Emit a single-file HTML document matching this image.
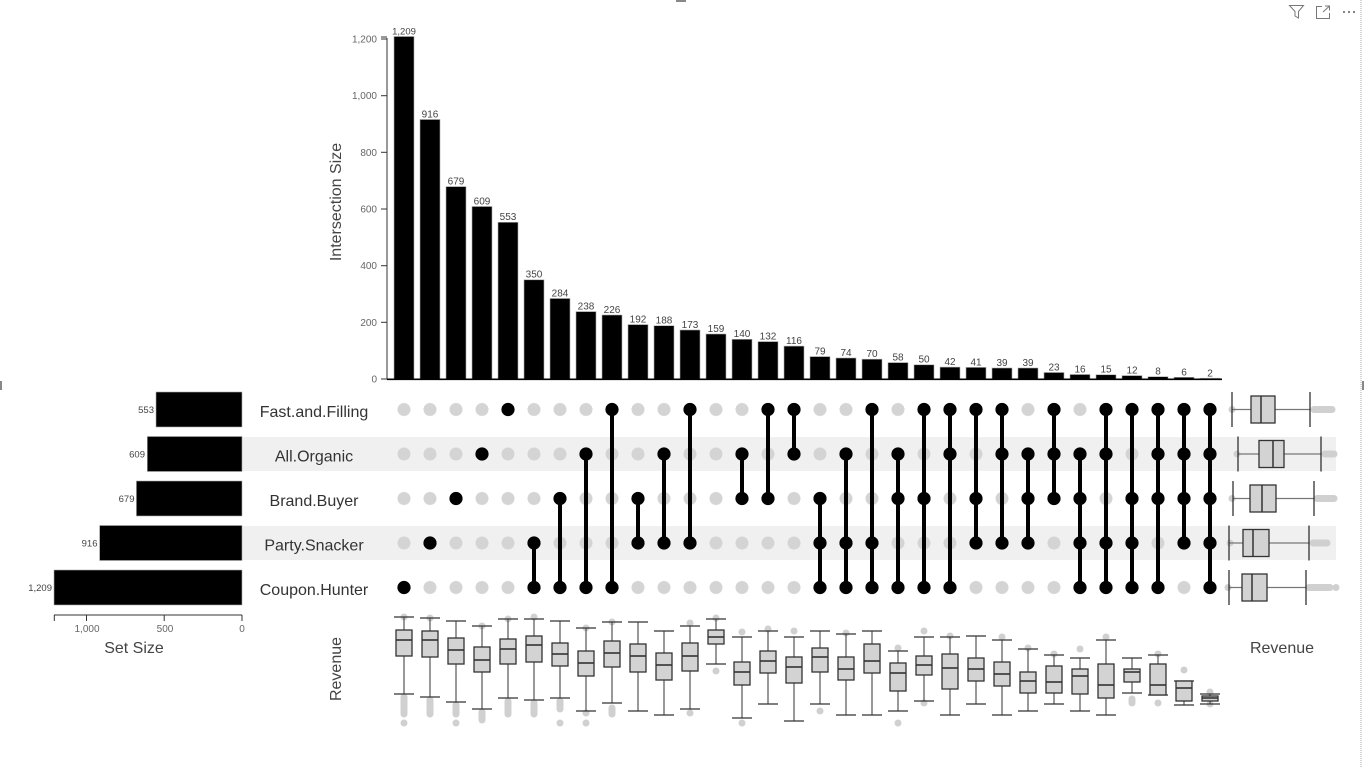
<!DOCTYPE html>
<html><head><meta charset="utf-8"><style>
html,body{margin:0;padding:0;background:#fff;}
svg{display:block;font-family:"Liberation Sans",Arial,sans-serif;}
</style></head><body>
<svg width="1366" height="768" viewBox="0 0 1366 768" xmlns="http://www.w3.org/2000/svg">
<defs>
<pattern id="gd" x="391" y="387.25" width="26" height="44.5" patternUnits="userSpaceOnUse"><circle cx="13" cy="22.25" r="6.5" fill="#d4d4d4"/></pattern>
<circle id="b" r="6.6" fill="#000"/>
</defs>
<rect width="1366" height="768" fill="#fff"/>

<!-- row bands -->
<rect x="242" y="437" width="1094" height="34" fill="#f0f0f0"/>
<rect x="242" y="526" width="1094" height="34" fill="#f0f0f0"/>

<!-- top y axis -->
<g stroke="#333" stroke-width="1">
<line x1="387" y1="38" x2="387" y2="379"/>
<line x1="381" y1="379" x2="387" y2="379"/>
<line x1="381" y1="322.3" x2="387" y2="322.3"/>
<line x1="381" y1="265.7" x2="387" y2="265.7"/>
<line x1="381" y1="209" x2="387" y2="209"/>
<line x1="381" y1="152.3" x2="387" y2="152.3"/>
<line x1="381" y1="95.7" x2="387" y2="95.7"/>
<line x1="381" y1="39" x2="387" y2="39"/>
<line x1="381" y1="37" x2="387" y2="37"/>
</g>
<g font-size="10" fill="#666" text-anchor="end">
<text x="377" y="382.5">0</text>
<text x="377" y="325.8">200</text>
<text x="377" y="269.2">400</text>
<text x="377" y="212.5">600</text>
<text x="377" y="155.8">800</text>
<text x="377" y="99.2">1,000</text>
<text x="377" y="42.5">1,200</text>
</g>
<text transform="translate(341,202) rotate(-90)" font-size="16" fill="#444" text-anchor="middle">Intersection Size</text>

<!-- bars -->
<g fill="#000" stroke="#aaa" stroke-width="0.6">
<rect x="394" y="36.5" width="20" height="342.5"/>
<rect x="420" y="119.5" width="20" height="259.5"/>
<rect x="446" y="186.6" width="20" height="192.4"/>
<rect x="472" y="206.5" width="20" height="172.5"/>
<rect x="498" y="222.3" width="20" height="156.7"/>
<rect x="524" y="279.8" width="20" height="99.2"/>
<rect x="550" y="298.5" width="20" height="80.5"/>
<rect x="576" y="311.6" width="20" height="67.4"/>
<rect x="602" y="315" width="20" height="64"/>
<rect x="628" y="324.6" width="20" height="54.4"/>
<rect x="654" y="325.7" width="20" height="53.3"/>
<rect x="680" y="330" width="20" height="49"/>
<rect x="706" y="334" width="20" height="45"/>
<rect x="732" y="339.3" width="20" height="39.7"/>
<rect x="758" y="341.6" width="20" height="37.4"/>
<rect x="784" y="346.1" width="20" height="32.9"/>
<rect x="810" y="356.6" width="20" height="22.4"/>
<rect x="836" y="358" width="20" height="21"/>
<rect x="862" y="359.2" width="20" height="19.8"/>
<rect x="888" y="362.6" width="20" height="16.4"/>
<rect x="914" y="364.8" width="20" height="14.2"/>
<rect x="940" y="367.1" width="20" height="11.9"/>
<rect x="966" y="367.4" width="20" height="11.6"/>
<rect x="992" y="368" width="20" height="11"/>
<rect x="1018" y="368" width="20" height="11"/>
<rect x="1044" y="372.5" width="20" height="6.5"/>
<rect x="1070" y="374.5" width="20" height="4.5"/>
<rect x="1096" y="374.75" width="20" height="4.25"/>
<rect x="1122" y="375.6" width="20" height="3.4"/>
<rect x="1148" y="376.7" width="20" height="2.3"/>
<rect x="1174" y="377.3" width="20" height="1.7"/>
<rect x="1200" y="378.2" width="20" height="0.8"/>
</g>
<line x1="387" y1="379.3" x2="1222" y2="379.3" stroke="#000" stroke-width="1.6"/>
<g font-size="10" fill="#444" text-anchor="middle">
<text x="404" y="34.5" font-size="9.5">1,209</text>
<text x="430" y="117.5">916</text>
<text x="456" y="184.5">679</text>
<text x="482" y="204.5">609</text>
<text x="508" y="220">553</text>
<text x="534" y="277.5">350</text>
<text x="560" y="296.5">284</text>
<text x="586" y="309.5">238</text>
<text x="612" y="313">226</text>
<text x="638" y="322.5">192</text>
<text x="664" y="323.5">188</text>
<text x="690" y="328">173</text>
<text x="716" y="332">159</text>
<text x="742" y="337">140</text>
<text x="768" y="339.5">132</text>
<text x="794" y="344">116</text>
<text x="820" y="354.5">79</text>
<text x="846" y="356">74</text>
<text x="872" y="357">70</text>
<text x="898" y="360.5">58</text>
<text x="924" y="362.5">50</text>
<text x="950" y="365">42</text>
<text x="976" y="365.5">41</text>
<text x="1002" y="366">39</text>
<text x="1028" y="366">39</text>
<text x="1054" y="370.5">23</text>
<text x="1080" y="372.5">16</text>
<text x="1106" y="372.5">15</text>
<text x="1132" y="373.5">12</text>
<text x="1158" y="374.5">8</text>
<text x="1184" y="375.5">6</text>
<text x="1210" y="376.5">2</text>
</g>

<!-- set size bars -->
<g fill="#000" stroke="#aaa" stroke-width="0.6">
<rect x="156" y="392" width="86" height="35"/>
<rect x="147.3" y="436.5" width="94.7" height="35"/>
<rect x="136.4" y="481" width="105.6" height="35"/>
<rect x="99.6" y="525.5" width="142.4" height="35"/>
<rect x="54" y="570" width="188" height="35"/>
</g>
<g font-size="9.5" fill="#444" text-anchor="end">
<text x="154" y="413">553</text>
<text x="145" y="457.5">609</text>
<text x="134.5" y="502">679</text>
<text x="97.5" y="546.5">916</text>
<text x="52" y="591">1,209</text>
</g>
<g stroke="#333" stroke-width="1">
<line x1="54" y1="615" x2="242" y2="615"/>
<line x1="54.3" y1="615" x2="54.3" y2="621"/>
<line x1="86.5" y1="615" x2="86.5" y2="621"/>
<line x1="164.2" y1="615" x2="164.2" y2="621"/>
<line x1="242" y1="615" x2="242" y2="621"/>
</g>
<g font-size="10" fill="#666" text-anchor="middle">
<text x="87" y="632">1,000</text>
<text x="165" y="632">500</text>
<text x="242" y="632">0</text>
</g>
<text x="134" y="653" font-size="16" fill="#444" text-anchor="middle">Set Size</text>

<!-- set labels -->
<g font-size="16" fill="#333" text-anchor="middle">
<text x="314" y="417">Fast.and.Filling</text>
<text x="314" y="461.5">All.Organic</text>
<text x="314" y="506">Brand.Buyer</text>
<text x="314" y="550.5">Party.Snacker</text>
<text x="314" y="595">Coupon.Hunter</text>
</g>

<!-- matrix gray dots -->
<rect x="391" y="387.25" width="832" height="222.5" fill="url(#gd)"/>

<!-- matrix lines -->
<g stroke="#000" stroke-width="4">
<line x1="534" y1="543" x2="534" y2="587.5"/>
<line x1="560" y1="498.5" x2="560" y2="587.5"/>
<line x1="586" y1="454" x2="586" y2="587.5"/>
<line x1="612" y1="409.5" x2="612" y2="587.5"/>
<line x1="638" y1="498.5" x2="638" y2="543"/>
<line x1="664" y1="454" x2="664" y2="543"/>
<line x1="690" y1="409.5" x2="690" y2="543"/>
<line x1="742" y1="454" x2="742" y2="498.5"/>
<line x1="768" y1="409.5" x2="768" y2="498.5"/>
<line x1="794" y1="409.5" x2="794" y2="454"/>
<line x1="820" y1="498.5" x2="820" y2="587.5"/>
<line x1="846" y1="454" x2="846" y2="587.5"/>
<line x1="872" y1="409.5" x2="872" y2="587.5"/>
<line x1="898" y1="454" x2="898" y2="587.5"/>
<line x1="924" y1="409.5" x2="924" y2="587.5"/>
<line x1="950" y1="409.5" x2="950" y2="587.5"/>
<line x1="976" y1="409.5" x2="976" y2="543"/>
<line x1="1002" y1="409.5" x2="1002" y2="543"/>
<line x1="1028" y1="454" x2="1028" y2="543"/>
<line x1="1054" y1="409.5" x2="1054" y2="498.5"/>
<line x1="1080" y1="454" x2="1080" y2="587.5"/>
<line x1="1106" y1="409.5" x2="1106" y2="587.5"/>
<line x1="1132" y1="409.5" x2="1132" y2="587.5"/>
<line x1="1158" y1="409.5" x2="1158" y2="587.5"/>
<line x1="1184" y1="409.5" x2="1184" y2="543"/>
<line x1="1210" y1="409.5" x2="1210" y2="587.5"/>
</g>

<!-- black dots -->
<g>
<!-- row F -->
<use href="#b" x="508" y="409.5"/><use href="#b" x="612" y="409.5"/><use href="#b" x="690" y="409.5"/><use href="#b" x="768" y="409.5"/><use href="#b" x="794" y="409.5"/><use href="#b" x="872" y="409.5"/><use href="#b" x="924" y="409.5"/><use href="#b" x="950" y="409.5"/><use href="#b" x="976" y="409.5"/><use href="#b" x="1002" y="409.5"/><use href="#b" x="1054" y="409.5"/><use href="#b" x="1106" y="409.5"/><use href="#b" x="1132" y="409.5"/><use href="#b" x="1158" y="409.5"/><use href="#b" x="1184" y="409.5"/><use href="#b" x="1210" y="409.5"/>
<!-- row A -->
<use href="#b" x="482" y="454"/><use href="#b" x="586" y="454"/><use href="#b" x="664" y="454"/><use href="#b" x="742" y="454"/><use href="#b" x="794" y="454"/><use href="#b" x="846" y="454"/><use href="#b" x="898" y="454"/><use href="#b" x="950" y="454"/><use href="#b" x="1002" y="454"/><use href="#b" x="1028" y="454"/><use href="#b" x="1054" y="454"/><use href="#b" x="1080" y="454"/><use href="#b" x="1106" y="454"/><use href="#b" x="1158" y="454"/><use href="#b" x="1184" y="454"/><use href="#b" x="1210" y="454"/>
<!-- row B -->
<use href="#b" x="456" y="498.5"/><use href="#b" x="560" y="498.5"/><use href="#b" x="638" y="498.5"/><use href="#b" x="742" y="498.5"/><use href="#b" x="768" y="498.5"/><use href="#b" x="820" y="498.5"/><use href="#b" x="898" y="498.5"/><use href="#b" x="924" y="498.5"/><use href="#b" x="976" y="498.5"/><use href="#b" x="1028" y="498.5"/><use href="#b" x="1054" y="498.5"/><use href="#b" x="1080" y="498.5"/><use href="#b" x="1132" y="498.5"/><use href="#b" x="1158" y="498.5"/><use href="#b" x="1184" y="498.5"/><use href="#b" x="1210" y="498.5"/>
<!-- row P -->
<use href="#b" x="430" y="543"/><use href="#b" x="534" y="543"/><use href="#b" x="638" y="543"/><use href="#b" x="664" y="543"/><use href="#b" x="690" y="543"/><use href="#b" x="820" y="543"/><use href="#b" x="846" y="543"/><use href="#b" x="872" y="543"/><use href="#b" x="976" y="543"/><use href="#b" x="1002" y="543"/><use href="#b" x="1028" y="543"/><use href="#b" x="1080" y="543"/><use href="#b" x="1106" y="543"/><use href="#b" x="1132" y="543"/><use href="#b" x="1184" y="543"/><use href="#b" x="1210" y="543"/>
<!-- row C -->
<use href="#b" x="404" y="587.5"/><use href="#b" x="534" y="587.5"/><use href="#b" x="560" y="587.5"/><use href="#b" x="586" y="587.5"/><use href="#b" x="612" y="587.5"/><use href="#b" x="820" y="587.5"/><use href="#b" x="846" y="587.5"/><use href="#b" x="872" y="587.5"/><use href="#b" x="898" y="587.5"/><use href="#b" x="924" y="587.5"/><use href="#b" x="950" y="587.5"/><use href="#b" x="1080" y="587.5"/><use href="#b" x="1106" y="587.5"/><use href="#b" x="1132" y="587.5"/><use href="#b" x="1158" y="587.5"/><use href="#b" x="1210" y="587.5"/>
</g>

<!-- right boxplots -->
<g>
<g stroke="#d0d0d0" stroke-width="7" stroke-linecap="round">
<line x1="1314" y1="409.5" x2="1332" y2="409.5"/>
<line x1="1325" y1="454" x2="1334" y2="454"/>
<line x1="1317" y1="498.5" x2="1334" y2="498.5"/>
<line x1="1313" y1="543" x2="1327" y2="543"/>
<line x1="1309" y1="587.5" x2="1330" y2="587.5"/>
</g>
<g fill="#d0d0d0">
<circle cx="1232" cy="409.5" r="3.5"/><circle cx="1237" cy="454" r="3.5"/><circle cx="1232" cy="498.5" r="3.5"/><circle cx="1230" cy="543" r="3.5"/><circle cx="1228" cy="587.5" r="3.5"/><circle cx="1336" cy="587.5" r="3.5"/>
</g>
<g stroke="#777" stroke-width="1.2">
<line x1="1232" y1="409.5" x2="1310" y2="409.5"/>
<line x1="1238" y1="454" x2="1321" y2="454"/>
<line x1="1233" y1="498.5" x2="1314" y2="498.5"/>
<line x1="1229" y1="543" x2="1309" y2="543"/>
<line x1="1229" y1="587.5" x2="1306" y2="587.5"/>
</g>
<g stroke="#222" stroke-width="1.2">
<line x1="1232" y1="392" x2="1232" y2="427"/><line x1="1310" y1="392" x2="1310" y2="427"/>
<line x1="1238" y1="436.5" x2="1238" y2="471.5"/><line x1="1321" y1="436.5" x2="1321" y2="471.5"/>
<line x1="1233" y1="481" x2="1233" y2="516"/><line x1="1314" y1="481" x2="1314" y2="516"/>
<line x1="1229" y1="525.5" x2="1229" y2="560.5"/><line x1="1309" y1="525.5" x2="1309" y2="560.5"/>
<line x1="1229" y1="570" x2="1229" y2="605"/><line x1="1306" y1="570" x2="1306" y2="605"/>
</g>
<g fill="#d3d3d3" stroke="#333" stroke-width="1.3">
<rect x="1251" y="396" width="24" height="27"/>
<rect x="1259" y="440.5" width="25" height="27"/>
<rect x="1250" y="485" width="26" height="27"/>
<rect x="1243" y="529.5" width="26" height="27"/>
<rect x="1242" y="574" width="25" height="27"/>
</g>
<g stroke="#333" stroke-width="1.5">
<line x1="1261" y1="396" x2="1261" y2="423"/>
<line x1="1273" y1="440.5" x2="1273" y2="467.5"/>
<line x1="1262" y1="485" x2="1262" y2="512"/>
<line x1="1253" y1="529.5" x2="1253" y2="556.5"/>
<line x1="1252" y1="574" x2="1252" y2="601"/>
</g>
</g>
<text x="1282" y="653" font-size="16" fill="#444" text-anchor="middle">Revenue</text>

<!-- bottom boxplots -->
<text transform="translate(341,669) rotate(-90)" font-size="16" fill="#444" text-anchor="middle">Revenue</text>
<g fill="#d0d0d0">
<circle cx="404" cy="617" r="3.5"/><circle cx="404" cy="723" r="3.5"/>
<circle cx="430" cy="618" r="3.5"/>
<circle cx="456" cy="723" r="3.5"/>
<circle cx="482" cy="626" r="3.5"/>
<circle cx="508" cy="619" r="3.5"/>
<circle cx="534" cy="617" r="3.5"/>
<circle cx="560" cy="723" r="3.5"/>
<circle cx="586" cy="628" r="3.5"/><circle cx="586" cy="713" r="3.5"/><circle cx="586" cy="723" r="3.5"/>
<circle cx="612" cy="622" r="3.5"/>
<circle cx="690" cy="623" r="3.5"/><circle cx="690" cy="713" r="3.5"/>
<circle cx="716" cy="618" r="3.5"/><circle cx="716" cy="671" r="3.5"/>
<circle cx="742" cy="632" r="3.5"/><circle cx="742" cy="723" r="3.5"/>
<circle cx="768" cy="629" r="3.5"/>
<circle cx="794" cy="631" r="3.5"/>
<circle cx="820" cy="711" r="3.5"/>
<circle cx="846" cy="633" r="3.5"/>
<circle cx="898" cy="648" r="3.5"/><circle cx="898" cy="723" r="3.5"/>
<circle cx="924" cy="631" r="3.5"/><circle cx="924" cy="703" r="3.5"/>
<circle cx="950" cy="636" r="3.5"/>
<circle cx="1002" cy="637" r="3.5"/>
<circle cx="1028" cy="648" r="3.5"/>
<circle cx="1054" cy="654" r="3.5"/>
<circle cx="1080" cy="649" r="3.5"/>
<circle cx="1106" cy="637" r="3.5"/>
<circle cx="1158" cy="654" r="3.5"/><circle cx="1158" cy="703" r="3.5"/>
<circle cx="1184" cy="670" r="3.5"/>
<circle cx="1210" cy="692" r="3.5"/><circle cx="1210" cy="704" r="3.5"/>
</g>
<g stroke="#d0d0d0" stroke-width="7" stroke-linecap="round">
<line x1="404" y1="697" x2="404" y2="714"/>
<line x1="430" y1="700" x2="430" y2="714"/>
<line x1="456" y1="705" x2="456" y2="714"/>
<line x1="482" y1="712" x2="482" y2="720"/>
<line x1="508" y1="701" x2="508" y2="714"/>
<line x1="534" y1="703" x2="534" y2="714"/>
<line x1="560" y1="701" x2="560" y2="709"/>
<line x1="612" y1="708" x2="612" y2="714"/>
<line x1="1132" y1="699" x2="1132" y2="703"/>
</g>
<g stroke="#555" stroke-width="1.2">
<line x1="404" y1="617" x2="404" y2="694"/>
<line x1="430" y1="618" x2="430" y2="697"/>
<line x1="456" y1="621" x2="456" y2="702"/>
<line x1="482" y1="626" x2="482" y2="709"/>
<line x1="508" y1="619" x2="508" y2="698"/>
<line x1="534" y1="619" x2="534" y2="700"/>
<line x1="560" y1="621" x2="560" y2="698"/>
<line x1="586" y1="628" x2="586" y2="711"/>
<line x1="612" y1="622" x2="612" y2="703"/>
<line x1="638" y1="622" x2="638" y2="711"/>
<line x1="664" y1="631" x2="664" y2="715"/>
<line x1="690" y1="626" x2="690" y2="709"/>
<line x1="716" y1="619" x2="716" y2="664"/>
<line x1="742" y1="637" x2="742" y2="718"/>
<line x1="768" y1="631" x2="768" y2="704"/>
<line x1="794" y1="637" x2="794" y2="721"/>
<line x1="820" y1="631" x2="820" y2="704"/>
<line x1="846" y1="634" x2="846" y2="715"/>
<line x1="872" y1="631" x2="872" y2="715"/>
<line x1="898" y1="651" x2="898" y2="711"/>
<line x1="924" y1="637" x2="924" y2="701"/>
<line x1="950" y1="637" x2="950" y2="715"/>
<line x1="976" y1="636" x2="976" y2="704"/>
<line x1="1002" y1="640" x2="1002" y2="715"/>
<line x1="1028" y1="649" x2="1028" y2="711"/>
<line x1="1054" y1="655" x2="1054" y2="704"/>
<line x1="1080" y1="658" x2="1080" y2="711"/>
<line x1="1106" y1="640" x2="1106" y2="715"/>
<line x1="1132" y1="658" x2="1132" y2="693"/>
<line x1="1158" y1="655" x2="1158" y2="695"/>
<line x1="1184" y1="681" x2="1184" y2="705"/>
<line x1="1210" y1="694" x2="1210" y2="704"/>
</g>
<g stroke="#333" stroke-width="1.3">
<line x1="394" y1="617" x2="414" y2="617"/><line x1="394" y1="694" x2="414" y2="694"/>
<line x1="420" y1="618" x2="440" y2="618"/><line x1="420" y1="697" x2="440" y2="697"/>
<line x1="446" y1="621" x2="466" y2="621"/><line x1="446" y1="702" x2="466" y2="702"/>
<line x1="472" y1="626" x2="492" y2="626"/><line x1="472" y1="709" x2="492" y2="709"/>
<line x1="498" y1="619" x2="518" y2="619"/><line x1="498" y1="698" x2="518" y2="698"/>
<line x1="524" y1="619" x2="544" y2="619"/><line x1="524" y1="700" x2="544" y2="700"/>
<line x1="550" y1="621" x2="570" y2="621"/><line x1="550" y1="698" x2="570" y2="698"/>
<line x1="576" y1="628" x2="596" y2="628"/><line x1="576" y1="711" x2="596" y2="711"/>
<line x1="602" y1="622" x2="622" y2="622"/><line x1="602" y1="703" x2="622" y2="703"/>
<line x1="628" y1="622" x2="648" y2="622"/><line x1="628" y1="711" x2="648" y2="711"/>
<line x1="654" y1="631" x2="674" y2="631"/><line x1="654" y1="715" x2="674" y2="715"/>
<line x1="680" y1="626" x2="700" y2="626"/><line x1="680" y1="709" x2="700" y2="709"/>
<line x1="706" y1="619" x2="726" y2="619"/><line x1="706" y1="664" x2="726" y2="664"/>
<line x1="732" y1="637" x2="752" y2="637"/><line x1="732" y1="718" x2="752" y2="718"/>
<line x1="758" y1="631" x2="778" y2="631"/><line x1="758" y1="704" x2="778" y2="704"/>
<line x1="784" y1="637" x2="804" y2="637"/><line x1="784" y1="721" x2="804" y2="721"/>
<line x1="810" y1="631" x2="830" y2="631"/><line x1="810" y1="704" x2="830" y2="704"/>
<line x1="836" y1="634" x2="856" y2="634"/><line x1="836" y1="715" x2="856" y2="715"/>
<line x1="862" y1="631" x2="882" y2="631"/><line x1="862" y1="715" x2="882" y2="715"/>
<line x1="888" y1="651" x2="908" y2="651"/><line x1="888" y1="711" x2="908" y2="711"/>
<line x1="914" y1="637" x2="934" y2="637"/><line x1="914" y1="701" x2="934" y2="701"/>
<line x1="940" y1="637" x2="960" y2="637"/><line x1="940" y1="715" x2="960" y2="715"/>
<line x1="966" y1="636" x2="986" y2="636"/><line x1="966" y1="704" x2="986" y2="704"/>
<line x1="992" y1="640" x2="1012" y2="640"/><line x1="992" y1="715" x2="1012" y2="715"/>
<line x1="1018" y1="649" x2="1038" y2="649"/><line x1="1018" y1="711" x2="1038" y2="711"/>
<line x1="1044" y1="655" x2="1064" y2="655"/><line x1="1044" y1="704" x2="1064" y2="704"/>
<line x1="1070" y1="658" x2="1090" y2="658"/><line x1="1070" y1="711" x2="1090" y2="711"/>
<line x1="1096" y1="640" x2="1116" y2="640"/><line x1="1096" y1="715" x2="1116" y2="715"/>
<line x1="1122" y1="658" x2="1142" y2="658"/><line x1="1122" y1="693" x2="1142" y2="693"/>
<line x1="1148" y1="655" x2="1168" y2="655"/><line x1="1148" y1="695" x2="1168" y2="695"/>
<line x1="1174" y1="681" x2="1194" y2="681"/><line x1="1174" y1="705" x2="1194" y2="705"/>
<line x1="1200" y1="694" x2="1220" y2="694"/><line x1="1200" y1="704" x2="1220" y2="704"/>
</g>
<g fill="#d3d3d3" stroke="#333" stroke-width="1.3">
<rect x="396" y="630" width="16" height="26"/>
<rect x="422" y="631" width="16" height="26"/>
<rect x="448" y="638" width="16" height="26"/>
<rect x="474" y="647" width="16" height="25"/>
<rect x="500" y="639" width="16" height="25"/>
<rect x="526" y="636" width="16" height="26"/>
<rect x="552" y="643" width="16" height="23"/>
<rect x="578" y="651" width="16" height="25"/>
<rect x="604" y="641" width="16" height="26"/>
<rect x="630" y="644" width="16" height="28"/>
<rect x="656" y="653" width="16" height="27"/>
<rect x="682" y="643" width="16" height="28"/>
<rect x="708" y="630" width="16" height="14"/>
<rect x="734" y="662" width="16" height="23"/>
<rect x="760" y="651" width="16" height="22"/>
<rect x="786" y="657" width="16" height="26"/>
<rect x="812" y="648" width="16" height="24"/>
<rect x="838" y="657" width="16" height="23"/>
<rect x="864" y="644" width="16" height="29"/>
<rect x="890" y="663" width="16" height="28"/>
<rect x="916" y="656" width="16" height="19"/>
<rect x="942" y="654" width="16" height="35"/>
<rect x="968" y="658" width="16" height="23"/>
<rect x="994" y="662" width="16" height="24"/>
<rect x="1020" y="672" width="16" height="21"/>
<rect x="1046" y="666" width="16" height="27"/>
<rect x="1072" y="669" width="16" height="25"/>
<rect x="1098" y="664" width="16" height="34"/>
<rect x="1124" y="669" width="16" height="13"/>
<rect x="1150" y="664" width="16" height="31"/>
<rect x="1176" y="681" width="16" height="20"/>
<rect x="1202" y="696" width="16" height="5"/>
</g>
<g stroke="#333" stroke-width="1.6">
<line x1="396" y1="640" x2="412" y2="640"/>
<line x1="422" y1="640" x2="438" y2="640"/>
<line x1="448" y1="650" x2="464" y2="650"/>
<line x1="474" y1="660" x2="490" y2="660"/>
<line x1="500" y1="649" x2="516" y2="649"/>
<line x1="526" y1="645" x2="542" y2="645"/>
<line x1="552" y1="654" x2="568" y2="654"/>
<line x1="578" y1="663" x2="594" y2="663"/>
<line x1="604" y1="653" x2="620" y2="653"/>
<line x1="630" y1="656" x2="646" y2="656"/>
<line x1="656" y1="665" x2="672" y2="665"/>
<line x1="682" y1="656" x2="698" y2="656"/>
<line x1="708" y1="637" x2="724" y2="637"/>
<line x1="734" y1="672" x2="750" y2="672"/>
<line x1="760" y1="661" x2="776" y2="661"/>
<line x1="786" y1="667" x2="802" y2="667"/>
<line x1="812" y1="657" x2="828" y2="657"/>
<line x1="838" y1="669" x2="854" y2="669"/>
<line x1="864" y1="661" x2="880" y2="661"/>
<line x1="890" y1="673" x2="906" y2="673"/>
<line x1="916" y1="665" x2="932" y2="665"/>
<line x1="942" y1="668" x2="958" y2="668"/>
<line x1="968" y1="669" x2="984" y2="669"/>
<line x1="994" y1="674" x2="1010" y2="674"/>
<line x1="1020" y1="681" x2="1036" y2="681"/>
<line x1="1046" y1="682" x2="1062" y2="682"/>
<line x1="1072" y1="676" x2="1088" y2="676"/>
<line x1="1098" y1="685" x2="1114" y2="685"/>
<line x1="1124" y1="672" x2="1140" y2="672"/>
<line x1="1150" y1="685" x2="1166" y2="685"/>
<line x1="1176" y1="688" x2="1192" y2="688"/>
<line x1="1202" y1="698" x2="1218" y2="698"/>
</g>

<!-- frame decorations -->
<line x1="1361" y1="0" x2="1361" y2="768" stroke="#aaa" stroke-width="1" stroke-dasharray="1,1"/>
<rect x="676" y="0" width="10" height="2" fill="#888"/>
<rect x="0" y="381" width="2" height="9" fill="#888"/>
<rect x="1362" y="381" width="2" height="9" fill="#888"/>
<g fill="none" stroke="#777" stroke-width="1">
<path d="M1289.5 5.5 L1303.5 5.5 L1298.5 11.5 L1298.5 18 L1295 16 L1295 11.5 Z"/>
<path d="M1322 6.5 L1316.5 6.5 L1316.5 18.5 L1329.5 18.5 L1329.5 13"/>
<path d="M1323 12 L1329.5 6 M1325 6 L1329.5 6 L1329.5 10.5"/>
</g>
<g fill="#777">
<circle cx="1344" cy="12" r="1.1"/><circle cx="1349" cy="12" r="1.1"/><circle cx="1354" cy="12" r="1.1"/>
</g>
</svg>
</body></html>
